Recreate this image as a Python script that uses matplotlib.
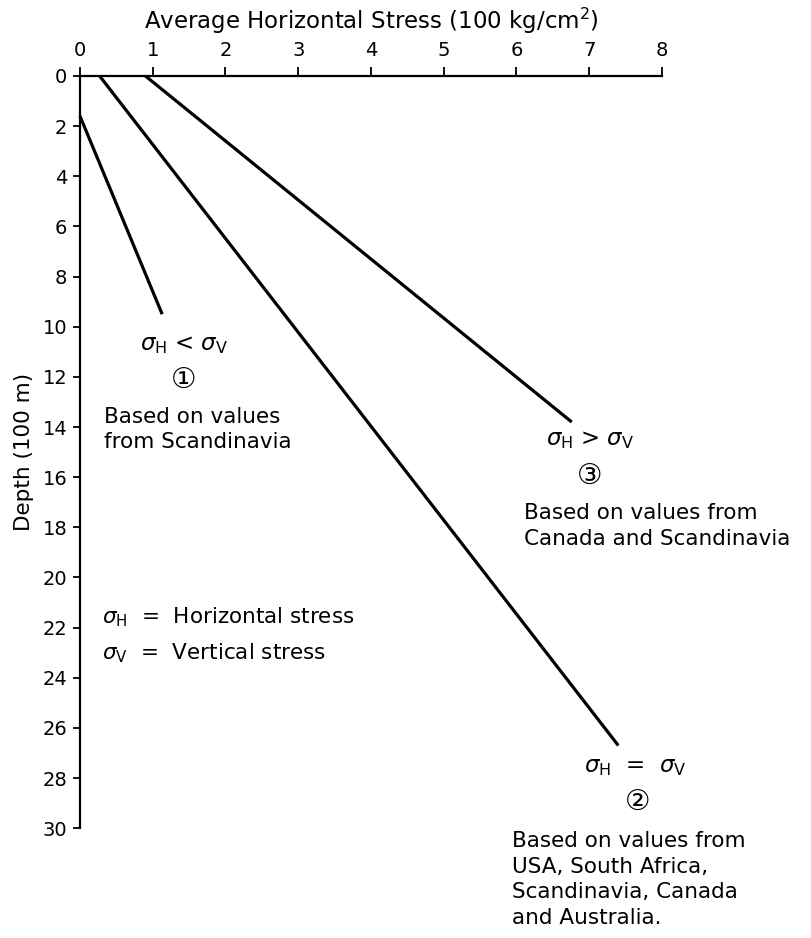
import matplotlib.pyplot as plt

# stress trend lines (x = stress in 100 kg/cm2, y = depth in 100 m)
line1_x = [0.0, 1.13]
line1_y = [1.6, 9.5]
line2_x = [0.27, 7.40]
line2_y = [0.0, 26.7]
line3_x = [0.90, 6.76]
line3_y = [0.0, 13.8]

x_ticks = [0, 1, 2, 3, 4, 5, 6, 7, 8]
y_ticks = list(range(0, 31, 2))

plt.rcParams['font.family'] = ['DejaVu Sans', 'Noto Sans CJK SC']
fs = 15.5

fig = plt.figure(figsize=(8.12, 9.38), dpi=100)
ax = fig.add_axes([0.0985, 0.117, 0.7167, 0.802])

for xs, ys in [(line1_x, line1_y), (line2_x, line2_y), (line3_x, line3_y)]:
    ax.plot(xs, ys, color='black', lw=2.3, solid_capstyle='butt', clip_on=False)

ax.set_xlim(0, 8)
ax.set_ylim(30, 0)
ax.xaxis.tick_top()
ax.xaxis.set_label_position('top')
ax.set_xticks(x_ticks)
ax.set_yticks(y_ticks)
ax.spines['right'].set_visible(False)
ax.spines['bottom'].set_visible(False)
ax.spines['top'].set_linewidth(1.6)
ax.spines['left'].set_linewidth(1.6)
ax.tick_params(axis='x', length=6.5, width=1.3, pad=5, labelsize=14)
ax.tick_params(axis='y', length=5, width=1.3, pad=4, labelsize=14)
ax.set_xlabel('Average Horizontal Stress (100 kg/cm$^2$)', fontsize=16.5, labelpad=9)
ax.set_ylabel('Depth (100 m)', fontsize=15.5, labelpad=6)

# annotations
ax.text(1.43, 10.7, r'$\sigma_{\rm H}$ < $\sigma_{\rm V}$', fontsize=fs + 1, ha='center', va='center')
ax.text(1.43, 12.1, '\u2460', fontsize=fs + 5, ha='center', va='center')
ax.text(0.33, 14.1, 'Based on values\nfrom Scandinavia', fontsize=fs, ha='left', va='center',
        linespacing=1.35)

ax.text(7.01, 14.5, r'$\sigma_{\rm H}$ > $\sigma_{\rm V}$', fontsize=fs + 1, ha='center', va='center')
ax.text(7.01, 15.95, '\u2462', fontsize=fs + 5, ha='center', va='center')
ax.text(6.1, 17.95, 'Based on values from\nCanada and Scandinavia', fontsize=fs, ha='left',
        va='center', linespacing=1.35)

ax.text(7.64, 27.55, r'$\sigma_{\rm H}$  =  $\sigma_{\rm V}$', fontsize=fs + 1, ha='center', va='center')
ax.text(7.66, 28.95, '\u2461', fontsize=fs + 5, ha='center', va='center')
ax.text(5.94, 32.05, 'Based on values from\nUSA, South Africa,\nScandinavia, Canada\nand Australia.',
        fontsize=fs, ha='left', va='center', linespacing=1.35)

ax.text(0.3, 21.6, r'$\sigma_{\rm H}$  =  Horizontal stress', fontsize=fs, ha='left', va='center')
ax.text(0.3, 23.0, r'$\sigma_{\rm V}$  =  Vertical stress', fontsize=fs, ha='left', va='center')

fig.savefig('out.png', dpi=100)
